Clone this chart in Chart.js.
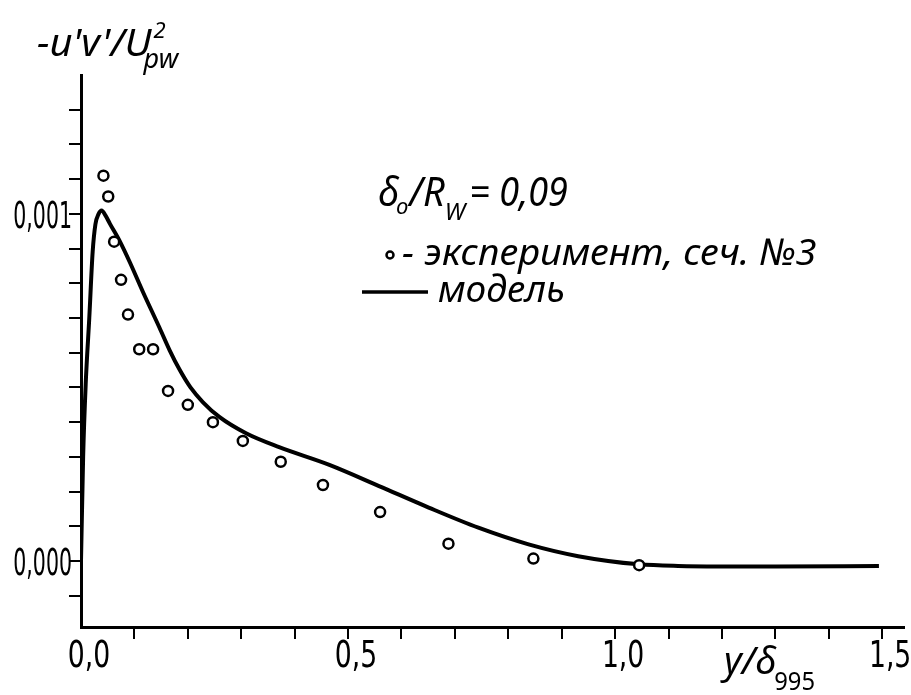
<!DOCTYPE html>
<html lang="ru">
<head>
<meta charset="UTF-8">
<title>Касательное напряжение</title>
<script src="https://cdn.jsdelivr.net/npm/chart.js@4.4.1/dist/chart.umd.min.js"></script>
<style>
  html, body { margin: 0; padding: 0; background: #fff; }
  #wrap { width: 911px; height: 695px; }
</style>
</head>
<body>
<div id="wrap"><canvas id="graf" width="911" height="695"></canvas></div>
<script>
// эксперимент, сеч. N3
var expX = [0.042, 0.051, 0.062, 0.075, 0.088, 0.109, 0.135, 0.163, 0.200, 0.247, 0.303, 0.374, 0.453, 0.560, 0.688, 0.847, 1.045];
var expY = [0.00111, 0.00105, 0.00092, 0.00081, 0.00071, 0.00061, 0.00061, 0.00049, 0.00045, 0.00040, 0.000346, 0.000286, 0.000219, 0.000141, 0.00005, 0.000007, -0.000012];

// модель
var modelX = [0, 0.004, 0.0088, 0.0155, 0.0218, 0.027, 0.033, 0.0386, 0.046, 0.054, 0.073, 0.091, 0.116, 0.147, 0.166, 0.185, 0.205, 0.228, 0.259, 0.309, 0.371, 0.465, 0.558, 0.651, 0.744, 0.838, 0.931, 1.045, 1.118, 1.30, 1.494];
var modelY = [0, 0.0003, 0.00051, 0.0007, 0.00089, 0.00097, 0.001, 0.00101, 0.000995, 0.000972, 0.00092, 0.000862, 0.000775, 0.000672, 0.000607, 0.00055, 0.0005, 0.000458, 0.000415, 0.000368, 0.000328, 0.000277, 0.000216, 0.000154, 0.000096, 0.000048, 0.000014, -0.0000095, -0.000014, -0.000016, -0.000014];

// деления осей
var xTicks = [0.1, 0.2, 0.3, 0.4, 0.5, 0.6, 0.7, 0.8, 0.9, 1.0, 1.1, 1.2, 1.3, 1.4, 1.5];
var xLabelValues = [0, 0.5, 1.0, 1.5];
var xLabels = ['0,0', '0,5', '1,0', '1,5'];
var yTicks = [-0.0001, 0, 0.0001, 0.0002, 0.0003, 0.0004, 0.0005, 0.0006, 0.0007, 0.0008, 0.0009, 0.001, 0.0011, 0.0012, 0.0013];
var yLabelValues = [0, 0.001];
var yLabels = ['0,000', '0,001'];

var pts = function (xs, ys) {
    var out = [];
    for (var i = 0; i < xs.length; i++) out.push({ x: xs[i], y: ys[i] });
    return out;
};

var NARROW = '"Liberation Sans Narrow", "DejaVu Sans Condensed", sans-serif';
var HAND = '"Noto Sans", "Open Sans", sans-serif';

function txt(ctx, s, x, y, font, sx, align) {
    ctx.save();
    ctx.translate(x, y);
    ctx.scale(sx || 1, 1);
    ctx.font = font;
    ctx.textAlign = align || 'left';
    ctx.textBaseline = 'alphabetic';
    ctx.fillStyle = '#000';
    ctx.fillText(s, 0, 0);
    var w = ctx.measureText(s).width * (sx || 1);
    ctx.restore();
    return w;
}

var podpisi = {
    id: 'podpisi',
    afterDraw: function (chart) {
        var ctx = chart.ctx;
        var sx = chart.scales.x, sy = chart.scales.y;

        // подписи делений
        for (var i = 0; i < xLabels.length; i++) {
            txt(ctx, xLabels[i], sx.getPixelForValue(xLabelValues[i]) + 8, 667, '38px ' + NARROW, 0.78, 'center');
        }
        for (var j = 0; j < yLabels.length; j++) {
            txt(ctx, yLabels[j], 72, sy.getPixelForValue(yLabelValues[j]) + 14, '38px ' + NARROW, 0.6, 'right');
        }

        // ось ординат
        var x = 37;
        x += txt(ctx, "-u'v'/U", x, 56, 'italic 38px ' + HAND, 1.05);
        txt(ctx, '2', x + 2, 38, 'italic 22px ' + HAND, 1.0);
        txt(ctx, 'pw', x - 8, 68, 'italic 27px ' + HAND, 1.0);

        // ось абсцисс
        var xa = 724;
        xa += txt(ctx, 'y/δ', xa, 674, 'italic 38px ' + HAND, 1.0);
        txt(ctx, '995', xa - 2, 690, '25px ' + HAND, 0.95);

        // параметр
        var xl = 378;
        xl += txt(ctx, 'δ', xl, 206, 'italic 40px ' + HAND, 0.95);
        xl += txt(ctx, 'o', xl - 3, 214, 'italic 22px ' + HAND, 1.0);
        xl += txt(ctx, '/R', xl - 2, 206, 'italic 40px ' + HAND, 0.95);
        xl += txt(ctx, 'W', xl - 2, 220, 'italic 24px ' + HAND, 1.0);
        txt(ctx, '= 0,09', xl + 2, 206, 'italic 40px ' + HAND, 0.9);

        // легенда
        ctx.save();
        ctx.beginPath();
        ctx.arc(390, 255, 3.5, 0, Math.PI * 2);
        ctx.lineWidth = 2.5;
        ctx.strokeStyle = '#000';
        ctx.stroke();
        ctx.beginPath();
        ctx.moveTo(362, 292);
        ctx.lineTo(428, 292);
        ctx.lineWidth = 3.5;
        ctx.stroke();
        ctx.restore();
        txt(ctx, '- эксперимент, сеч. №3', 402, 265, 'italic 37px ' + HAND, 1.03);
        txt(ctx, 'модель', 438, 302, 'italic 37px ' + HAND, 1.0);
    }
};

var ctx = document.getElementById('graf').getContext('2d');
var graf = new Chart(ctx, {
    type: 'scatter',
    data: {
        datasets: [{
            label: 'эксперимент, сеч. №3',
            data: pts(expX, expY),
            showLine: false,
            pointRadius: 5,
            pointBorderWidth: 2.5,
            borderColor: '#000',
            backgroundColor: '#fff'
        }, {
            label: 'модель',
            data: pts(modelX, modelY),
            showLine: true,
            pointRadius: 0,
            borderWidth: 4,
            borderColor: '#000',
            cubicInterpolationMode: 'monotone',
            fill: false
        }]
    },
    options: {
        responsive: false,
        animation: false,
        devicePixelRatio: 1,
        layout: { padding: { top: 75, right: 0, left: 0, bottom: 0 } },
        plugins: { legend: { display: false }, tooltip: { enabled: false } },
        scales: {
            x: {
                type: 'linear',
                min: 0,
                max: 1.54,
                afterBuildTicks: function (s) { s.ticks = xTicks.map(function (v) { return { value: v }; }); },
                afterFit: function (s) { s.height = 68; },
                ticks: { display: false },
                grid: { display: true, drawOnChartArea: false, drawTicks: true, tickLength: 12, color: '#000', lineWidth: 2 },
                border: { display: true, color: '#000', width: 3 }
            },
            y: {
                type: 'linear',
                min: -0.00019,
                max: 0.0014,
                afterBuildTicks: function (s) { s.ticks = yTicks.map(function (v) { return { value: v }; }); },
                afterFit: function (s) { s.width = 81; },
                ticks: { display: false },
                grid: { display: true, drawOnChartArea: false, drawTicks: true, tickLength: 12, color: '#000', lineWidth: 2 },
                border: { display: true, color: '#000', width: 3 }
            }
        }
    },
    plugins: [podpisi]
});
</script>
</body>
</html>
